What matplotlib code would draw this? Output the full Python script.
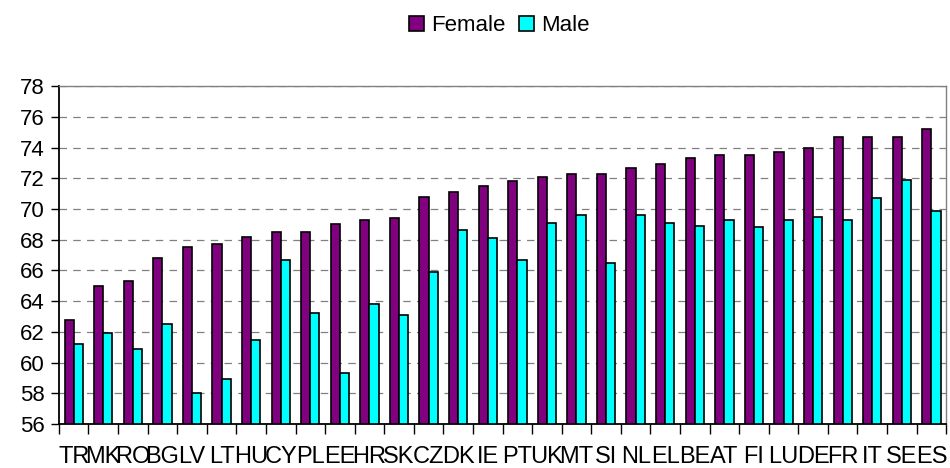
import matplotlib
matplotlib.use("Agg")
import matplotlib.pyplot as plt
import numpy as np

plt.rcParams['font.family'] = ['Liberation Sans', 'DejaVu Sans']

countries = ['TR', 'MK', 'RO', 'BG', 'LV', 'LT', 'HU', 'CY', 'PL', 'EE',
             'HR', 'SK', 'CZ', 'DK', 'IE', 'PT', 'UK', 'MT', 'SI', 'NL',
             'EL', 'BE', 'AT', 'FI', 'LU', 'DE', 'FR', 'IT', 'SE', 'ES']
female = [62.8, 65.0, 65.3, 66.8, 67.5, 67.7, 68.2, 68.5, 68.5, 69.0,
          69.3, 69.4, 70.8, 71.1, 71.5, 71.8, 72.1, 72.3, 72.3, 72.7,
          72.9, 73.3, 73.5, 73.5, 73.7, 74.0, 74.7, 74.7, 74.7, 75.2]
male = [61.2, 61.9, 60.9, 62.5, 58.0, 58.9, 61.5, 66.7, 63.2, 59.3,
        63.8, 63.1, 65.9, 68.6, 68.1, 66.7, 69.1, 69.6, 66.5, 69.6,
        69.1, 68.9, 69.3, 68.8, 69.3, 69.5, 69.3, 70.7, 71.9, 69.9]

x = np.arange(len(countries))
w = 0.31

fig = plt.figure(figsize=(9.5, 4.68), dpi=100)
ax = fig.add_axes([0.062, 0.094, 0.934, 0.722])

ax.bar(x - w / 2, np.array(female) - 56, w, bottom=56, color='#800080',
       edgecolor='black', linewidth=1.2, label='Female', zorder=3)
ax.bar(x + w / 2, np.array(male) - 56, w, bottom=56, color='#00FFFF',
       edgecolor='black', linewidth=1.2, label='Male', zorder=3)

ax.set_ylim(56, 78)
ax.set_xlim(-0.5, len(countries) - 0.5)
ax.set_yticks(np.arange(56, 79, 2))
ax.yaxis.grid(True, color='#808080', linestyle=(0, (6, 5)), linewidth=0.9, zorder=0)

# category labels centred, tick marks at group boundaries
ax.set_xticks(np.arange(-0.5, len(countries)), minor=False)
ax.set_xticklabels([])
ax.set_xticks(x, minor=True)
ax.set_xticklabels(countries, minor=True, fontsize=17)
ax.tick_params(axis='x', which='minor', length=0, pad=16)
ax.tick_params(axis='x', which='major', length=7, width=1, color='black', direction='out')
ax.tick_params(axis='y', labelsize=16, length=6, width=1, direction='out', pad=4)

for s in ['left', 'bottom']:
    ax.spines[s].set_color('black')
    ax.spines[s].set_linewidth(1.3)
for s in ['top', 'right']:
    ax.spines[s].set_color('#808080')
    ax.spines[s].set_linewidth(1.0)

fig.legend(loc='center', bbox_to_anchor=(0.526, 0.945), ncol=2, frameon=False,
           fontsize=16, handlelength=0.65, handleheight=0.65, handletextpad=0.35,
           columnspacing=0.6)

fig.savefig('out.png', dpi=100)
